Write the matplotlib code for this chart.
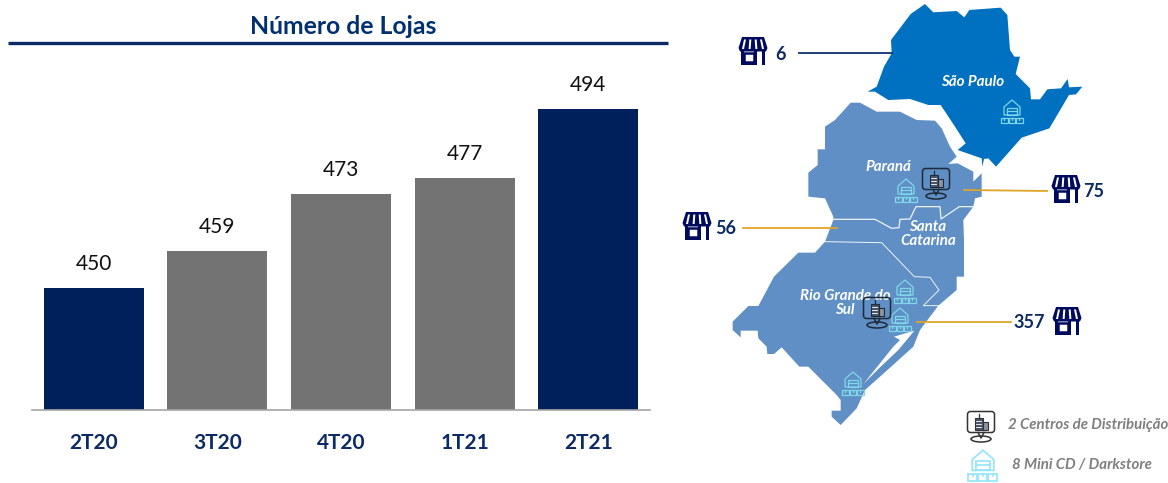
import matplotlib
matplotlib.use('Agg')
import matplotlib.pyplot as plt
from matplotlib.patches import Polygon, Rectangle, Ellipse, FancyBboxPatch

plt.rcParams['font.family'] = ['Lato', 'DejaVu Sans']

# dados
trimestres = ['2T20', '3T20', '4T20', '1T21', '2T21']
lojas = [450, 459, 473, 477, 494]
cores_barras = ['#00205C', '#737373', '#737373', '#737373', '#00205C']
titulo = 'Número de Lojas'

estados = ['São Paulo', 'Paraná', 'Santa\nCatarina', 'Rio Grande do\nSul']
lojas_estado = ['6', '75', '56', '357']
legenda = ['2 Centros de Distribuição', '8 Mini CD / Darkstore']

AZUL = '#0B2A66'
MARINHO = '#000B5E'
OURO = '#E0A526'
CIANO = '#7FD8EA'


# contornos do mapa medidos nos recortes (3x), origem em x=680
def z1(pts):
    return [(680 + x / 3, y / 3) for x, y in pts]


def z2(pts):
    return [(680 + x / 3, 240 + y / 3) for x, y in pts]


sao_paulo = z1([(735, 12), (760, 37), (830, 33), (853, 52), (868, 30), (962, 23), (982, 45), (990, 150),
                (1003, 170), (1020, 170), (1007, 222), (1050, 265), (1053, 298), (1080, 298), (1102, 268),
                (1143, 265), (1163, 237), (1167, 262), (1207, 260), (1188, 283), (1167, 285), (1108, 385),
                (1025, 413), (948, 500), (925, 475), (912, 477), (907, 500), (905, 475), (833, 450),
                (857, 430), (825, 380), (782, 315), (745, 315), (690, 297), (625, 300), (585, 275),
                (563, 275), (590, 260), (612, 200), (635, 160), (633, 120), (692, 42)])

sul = z1([(512, 308), (540, 308), (590, 335), (660, 335), (710, 360), (765, 362), (785, 385), (810, 440),
          (830, 470), (805, 492), (833, 490), (880, 515), (880, 545), (905, 520), (905, 590), (885, 595),
          (880, 620), (850, 660), (852, 720)]) + \
    z2([(852, 110), (830, 110), (830, 150), (775, 197), (720, 270), (700, 320), (600, 410), (555, 450),
        (530, 505), (482, 555), (455, 530), (455, 512), (482, 512), (482, 480), (470, 465), (385, 380),
        (358, 380), (305, 322), (282, 342), (262, 342), (260, 320), (235, 295), (233, 272), (182, 272),
        (182, 292), (158, 270), (158, 245), (205, 198), (235, 198), (282, 110), (355, 38), (405, 38),
        (435, 5)]) + \
    z1([(460, 660), (460, 650), (435, 595), (385, 590), (385, 518), (413, 495), (413, 448), (435, 448),
        (435, 380), (465, 360)])

lagoa = z2([(550, 432), (640, 320), (660, 300), (642, 290), (703, 272), (676, 305), (655, 330), (600, 382)])
divisa_pr = z1([(460, 658), (585, 658), (635, 685), (657, 683), (660, 658), (690, 657), (708, 620),
                (780, 620), (783, 657), (838, 620), (880, 620)])
divisa_rs = z2([(435, 5), (605, 8), (703, 110), (750, 112), (777, 150), (730, 197), (775, 197)])

fig = plt.figure(figsize=(11.68, 4.83), dpi=100)

# barras
ax = fig.add_axes([32 / 1168, 1 - 410 / 483, 618 / 1168, 350 / 483])
ax.bar(range(len(lojas)), lojas, width=0.81, color=cores_barras)
ax.set_xlim(-0.5, 4.5)
ax.set_ylim(420, 506)
for i, v in enumerate(lojas):
    ax.annotate(str(v), (i, v), xytext=(0, 10), textcoords='offset points', ha='center', va='bottom',
                fontsize=15, color='#111111')
ax.set_xticks(range(len(lojas)))
ax.set_xticklabels(trimestres, fontsize=15, fontweight='bold', color=AZUL)
ax.tick_params(axis='x', length=0, pad=16.5)
ax.set_yticks([])
for s in ['top', 'left', 'right']:
    ax.spines[s].set_visible(False)
ax.spines['bottom'].set_color('#A6A6A6')
ax.spines['bottom'].set_linewidth(1.2)

# camada em pixels para titulo e mapa
m = fig.add_axes([0, 0, 1, 1])
m.set_xlim(0, 1168)
m.set_ylim(483, 0)
m.axis('off')
m.patch.set_alpha(0)

m.text(343, 27, titulo, ha='center', va='center', fontsize=17.8, fontweight='bold', color='#003070')
m.plot([8, 668], [42.5, 42.5], color=AZUL, lw=2.4, solid_capstyle='butt')

m.add_patch(Polygon(sao_paulo, closed=True, fc='#0070C0', ec='none'))
m.add_patch(Polygon(sul, closed=True, fc='#5F8FC4', ec='none'))
m.add_patch(Polygon(lagoa, closed=True, fc='white', ec='none'))
m.plot(*zip(*divisa_pr), color='white', lw=0.9, alpha=0.9)
m.plot(*zip(*divisa_rs), color='white', lw=0.7, alpha=0.9)


def loja(cx, cy, s=1.0, cor=MARINHO):
    # toldo
    m.add_patch(Polygon([(cx - 11 * s, cy - 14 * s), (cx + 11 * s, cy - 14 * s), (cx + 14.5 * s, cy - 3 * s),
                         (cx + 13 * s, cy + 0.5 * s), (cx - 13 * s, cy + 0.5 * s), (cx - 14.5 * s, cy - 3 * s)],
                        closed=True, fc=cor, ec='none', zorder=4))
    for dx in [-8, -2.7, 2.7, 8]:
        m.add_patch(Polygon([(cx + (dx - 1) * s, cy - 11.5 * s), (cx + (dx + 1) * s, cy - 11.5 * s),
                             (cx + (dx * 1.25 + 1) * s, cy - 2 * s), (cx + (dx * 1.25 - 1) * s, cy - 2 * s)],
                            closed=True, fc='white', ec='none', zorder=5))
    # corpo
    m.add_patch(Rectangle((cx - 12 * s, cy), 3 * s, 14 * s, fc=cor, ec='none', zorder=4))
    m.add_patch(Rectangle((cx + 9 * s, cy), 3 * s, 14 * s, fc=cor, ec='none', zorder=4))
    m.add_patch(Rectangle((cx + 1 * s, cy), 3 * s, 14 * s, fc=cor, ec='none', zorder=4))
    m.add_patch(Rectangle((cx - 9 * s, cy + 1.5 * s), 10 * s, 9 * s, fc='white', ec=cor, lw=1.8 * s, zorder=4))
    m.add_patch(Rectangle((cx - 9 * s, cy + 10.5 * s), 10 * s, 3.5 * s, fc=cor, ec='none', zorder=4))


def armazem(cx, cy, s=1.0, cor=CIANO):
    lw = 0.9 * s
    m.add_patch(Polygon([(cx - 8 * s, cy - 4 * s), (cx, cy - 11 * s), (cx + 8 * s, cy - 4 * s),
                         (cx + 8 * s, cy + 4 * s), (cx - 8 * s, cy + 4 * s)],
                        closed=True, fc='none', ec=cor, lw=lw, zorder=4))
    m.add_patch(Rectangle((cx - 5 * s, cy - 3 * s), 10 * s, 7 * s, fc='none', ec=cor, lw=lw, zorder=4))
    m.plot([cx - 5 * s, cx + 5 * s], [cy, cy], color=cor, lw=lw, zorder=4)
    for dx in [-11, -3.5, 4]:
        m.add_patch(Rectangle((cx + dx * s, cy + 6.5 * s), 6.5 * s, 5 * s, fc='none', ec=cor, lw=lw, zorder=4))
        m.plot([cx + (dx + 3.25) * s] * 2, [cy + 6.5 * s, cy + 8.5 * s], color=cor, lw=lw, zorder=4)


def centro(cx, cy, s=1.0, cor='#1F2A3A'):
    lw = 1.1
    m.add_patch(FancyBboxPatch((cx - 13.5 * s, cy - 14.5 * s), 27 * s, 21 * s, boxstyle='round,pad=0,rounding_size=3',
                               fc='none', ec=cor, lw=lw, zorder=6))
    m.plot([cx - 3 * s, cx, cx + 3 * s], [cy + 6.5 * s, cy + 12 * s, cy + 6.5 * s], color=cor, lw=lw, zorder=6)
    m.add_patch(Ellipse((cx, cy + 13 * s), 20 * s, 6 * s, fc='none', ec=cor, lw=lw, zorder=6))
    # predios
    m.add_patch(Rectangle((cx - 6 * s, cy - 8 * s), 7.5 * s, 12 * s, fc='#4A5568', ec=cor, lw=0.8, zorder=6))
    m.add_patch(Rectangle((cx + 1.5 * s, cy - 4 * s), 5 * s, 8 * s, fc='#8A93A0', ec=cor, lw=0.8, zorder=6))
    m.plot([cx - 2.2 * s] * 2, [cy - 12 * s, cy - 8 * s], color=cor, lw=0.9, zorder=6)
    for dy in [-5, -2, 1]:
        m.plot([cx - 4.8 * s, cx + 0.3 * s], [cy + dy * s] * 2, color='white', lw=0.6, zorder=7)


armazem(1012, 111)
armazem(906, 190)
armazem(905, 291)
armazem(900, 319)
armazem(853, 383)
centro(936, 183)
centro(877, 312)

for cx, cy in [(753, 51), (1066, 189), (697, 226), (1067, 321)]:
    loja(cx, cy)

# ligacoes
m.plot([799, 892], [53, 53], color='#10306E', lw=1.3)
m.plot([964, 1047], [190, 191], color=OURO, lw=1.3)
m.plot([743, 837], [228, 228], color=OURO, lw=1.3)
m.plot([917, 1011], [322, 322], color=OURO, lw=1.3)

for (x, y), t in zip([(781, 54), (1094, 191.5), (726, 228.5), (1029, 322.5)], lojas_estado):
    m.text(x, y, t, ha='center', va='center', fontsize=13, fontweight='bold', color=AZUL)

# nomes dos estados
for (x, y), t in zip([(973, 82), (888, 167), (928, 234), (845, 303)], estados):
    m.text(x, y, t, ha='center', va='center', fontsize=10.9, fontweight='bold', fontstyle='italic',
           color='white', linespacing=1.0, zorder=3)

# legenda
centro(981, 426, cor='#333333')
armazem(983, 465, s=1.35, cor='#93E4FB')
m.text(1008, 425, legenda[0], ha='left', va='center', fontsize=10.8, fontweight='bold', fontstyle='italic',
       color='#7F7F7F')
m.text(1012, 465, legenda[1], ha='left', va='center', fontsize=10.8, fontweight='bold', fontstyle='italic',
       color='#7F7F7F')

fig.savefig('out.png', dpi=100)
